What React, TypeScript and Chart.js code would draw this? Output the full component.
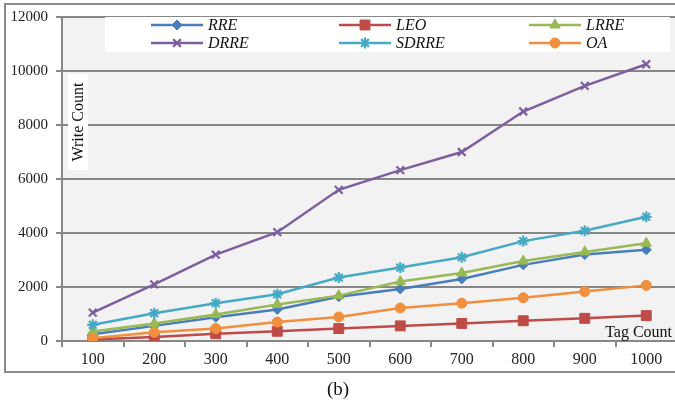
import React, { useEffect, useRef } from "react";
import { Chart, registerables } from "chart.js";
import { drawPoint } from "chart.js/helpers";

Chart.register(...registerables);

const categories = ["100", "200", "300", "400", "500", "600", "700", "800", "900", "1000"];
const seriesNames = ["RRE", "LEO", "LRRE", "DRRE", "SDRRE", "OA"];
const rre = [250, 560, 880, 1170, 1640, 1930, 2300, 2820, 3200, 3380];
const leo = [60, 150, 270, 360, 460, 560, 650, 750, 840, 940];
const lrre = [350, 650, 980, 1350, 1680, 2200, 2520, 2960, 3300, 3620];
const drre = [1050, 2100, 3200, 4030, 5600, 6330, 7000, 8500, 9450, 10250];
const sdrre = [600, 1030, 1400, 1730, 2350, 2720, 3100, 3700, 4080, 4600];
const oa = [100, 320, 460, 700, 890, 1220, 1400, 1600, 1830, 2060];
const yTicks = [0, 2000, 4000, 6000, 8000, 10000, 12000];

const colors = ["#4A7EBB", "#BE4B48", "#98B954", "#7D5FA0", "#46AAC5", "#F08F3E"];
const pointStyles = ["rectRot", "rect", "triangle", "crossRot", "star", "circle"];
const pointRadii = [5, 7, 6, 5.5, 5.5, 5];
const seriesData = [rre, leo, lrre, drre, sdrre, oa];

const GRID = "#878787";
const SERIF = "'Liberation Serif', 'Times New Roman', serif";

const framePlugin = {
  id: "frame",
  beforeDraw(chart: any) {
    const { ctx, chartArea, width, height } = chart;
    ctx.save();
    ctx.fillStyle = "#ffffff";
    ctx.fillRect(0, 0, width, height);
    ctx.fillStyle = "#f2f2f2";
    ctx.fillRect(chartArea.left, chartArea.top, chartArea.right - chartArea.left, chartArea.bottom - chartArea.top);
    ctx.restore();
  },
  afterDraw(chart: any) {
    const { ctx, chartArea } = chart;
    ctx.save();
    // outer frame
    ctx.strokeStyle = "#8c8c8c";
    ctx.lineWidth = 2;
    ctx.strokeRect(5, 4, 760, 368);

    // legend box
    ctx.fillStyle = "#ffffff";
    ctx.fillRect(105, 17, 565, 35);
    const colX = [151, 339, 529];
    const rowY = [25, 43];
    chart.data.datasets.forEach((ds: any, i: number) => {
      const x0 = colX[i % 3];
      const y = rowY[Math.floor(i / 3)];
      ctx.strokeStyle = ds.borderColor;
      ctx.lineWidth = 2.5;
      ctx.beginPath();
      ctx.moveTo(x0, y);
      ctx.lineTo(x0 + 52, y);
      ctx.stroke();
      ctx.fillStyle = ds.backgroundColor;
      ctx.strokeStyle = ds.borderColor;
      ctx.lineWidth = ds.pointBorderWidth;
      drawPoint(ctx, { pointStyle: ds.pointStyle, radius: ds.pointRadius, rotation: 0, borderWidth: ds.pointBorderWidth }, x0 + 26, y);
      ctx.fillStyle = "#111";
      ctx.font = `italic 16px ${SERIF}`;
      ctx.textAlign = "left";
      ctx.textBaseline = "middle";
      ctx.fillText(ds.label, x0 + 57, y + 1);
    });

    // y-axis title box
    ctx.fillStyle = "#ffffff";
    ctx.fillRect(68, 74, 20, 96);
    ctx.save();
    ctx.translate(79, 122);
    ctx.rotate(-Math.PI / 2);
    ctx.fillStyle = "#111";
    ctx.font = `16px ${SERIF}`;
    ctx.textAlign = "center";
    ctx.textBaseline = "middle";
    ctx.fillText("Write Count", 0, 0);
    ctx.restore();

    // x-axis title
    ctx.fillStyle = "#111";
    ctx.font = `16px ${SERIF}`;
    ctx.textAlign = "right";
    ctx.textBaseline = "alphabetic";
    ctx.fillText("Tag Count", 672, chartArea.bottom - 4);

    // caption
    ctx.font = `19px ${SERIF}`;
    ctx.textAlign = "center";
    ctx.textBaseline = "middle";
    ctx.fillText("(b)", 338, 390);
    ctx.restore();
  },
};

export default function App() {
  const ref = useRef<HTMLCanvasElement>(null);
  useEffect(() => {
    if (!ref.current) return;
    const chart = new Chart(ref.current, {
      type: "line",
      data: {
        labels: categories,
        datasets: seriesNames.map((name, i) => ({
          label: name,
          data: seriesData[i],
          borderColor: colors[i],
          backgroundColor: colors[i],
          borderWidth: 2.5,
          pointStyle: pointStyles[i] as any,
          pointRadius: pointRadii[i],
          pointBorderWidth: i === 3 || i === 4 ? 2.2 : 1,
          pointBorderColor: colors[i],
          pointBackgroundColor: colors[i],
          tension: 0,
          order: 5 - i,
        })),
      },
      options: {
        responsive: false,
        animation: false,
        devicePixelRatio: 1,
        layout: { padding: { top: 13, right: 13, left: 0, bottom: 0 } },
        plugins: { legend: { display: false }, tooltip: { enabled: false } },
        scales: {
          x: {
            type: "category",
            offset: true,
            grid: {
              offset: true,
              drawOnChartArea: false,
              drawTicks: true,
              tickLength: 6,
              color: GRID,
              lineWidth: 2,
            },
            border: { display: true, color: GRID, width: 2 },
            ticks: {
              color: "#222",
              font: { family: SERIF, size: 16 },
              padding: 3,
              maxRotation: 0,
              autoSkip: false,
            },
            afterFit(scale: any) {
              scale.height = 64;
            },
          },
          y: {
            min: 0,
            max: 12000,
            afterBuildTicks(scale: any) {
              scale.ticks = yTicks.map((v) => ({ value: v }));
            },
            grid: { color: GRID, lineWidth: 2, tickLength: 6, drawTicks: true },
            border: { display: true, color: GRID, width: 2 },
            ticks: {
              color: "#222",
              font: { family: SERIF, size: 15 },
              padding: 8,
              callback: (v: any) => String(v),
            },
            afterFit(scale: any) {
              scale.width = 62;
            },
          },
        },
      },
      plugins: [framePlugin],
    });
    return () => chart.destroy();
  }, []);
  return (
    <div style={{ position: "absolute", left: 0, top: 0, width: 675, height: 405, overflow: "hidden", background: "#fff" }}>
      <canvas ref={ref} width={690} height={405} style={{ display: "block" }} />
    </div>
  );
}
